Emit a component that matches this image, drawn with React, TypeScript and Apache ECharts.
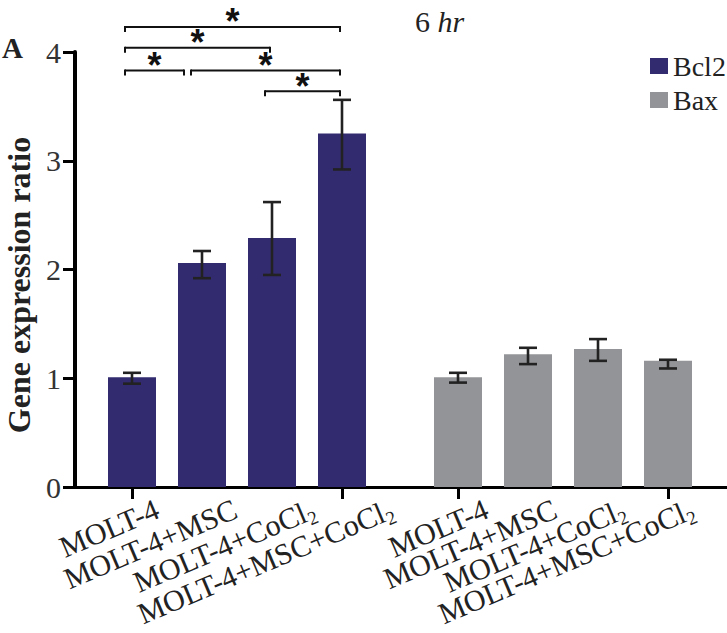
import React, { useEffect, useRef } from "react";
import * as echarts from "echarts";

const categories = ["MOLT-4", "MOLT-4+MSC", "MOLT-4+CoCl2", "MOLT-4+MSC+CoCl2"];
const bcl2Values = [1.01, 2.06, 2.29, 3.25];
const bcl2ErrLow = [0.95, 1.92, 1.95, 2.92];
const bcl2ErrHigh = [1.05, 2.17, 2.62, 3.56];
const baxValues = [1.01, 1.22, 1.27, 1.16];
const baxErrLow = [0.96, 1.13, 1.16, 1.09];
const baxErrHigh = [1.05, 1.28, 1.36, 1.17];
// significance brackets: [from index, to index, height (axis units)]
const brackets: [number, number, number][] = [
  [0, 3, 4.23],
  [0, 2, 4.04],
  [0, 1, 3.83],
  [1, 3, 3.83],
  [2, 3, 3.64],
];
const yTicks = [0, 1, 2, 3, 4];
const yName = "Gene expression ratio";

const SERIF = "'Liberation Serif', 'Times New Roman', serif";
const BCL2_COLOR = "#322b70";
const BAX_COLOR = "#939497";
const INK = "#222";

function labelFormatter(v: string) {
  return v.replace("CoCl2", "CoCl{sub|2}");
}

function errorRender() {
  return (params: any, api: any) => {
    const i = api.value(0);
    const lo = api.coord([i, api.value(1)]);
    const hi = api.coord([i, api.value(2)]);
    const cap = 9;
    const style = { stroke: INK, lineWidth: 2.6 };
    return {
      type: "group",
      children: [
        { type: "line", shape: { x1: hi[0], y1: hi[1], x2: lo[0], y2: lo[1] }, style },
        { type: "line", shape: { x1: hi[0] - cap, y1: hi[1], x2: hi[0] + cap, y2: hi[1] }, style },
        { type: "line", shape: { x1: lo[0] - cap, y1: lo[1], x2: lo[0] + cap, y2: lo[1] }, style },
      ],
    };
  };
}

export default function App() {
  const ref = useRef<HTMLDivElement>(null);
  useEffect(() => {
    if (!ref.current) return;
    const chart = echarts.init(ref.current, null, { renderer: "svg" });
    const top = 52;
    const height = 435;

    const hiddenY = (gridIndex: number) => ({
      type: "value",
      gridIndex,
      min: 0,
      max: 4,
      interval: 1,
      show: false,
    });

    const tickAxis = (gridIndex: number) => ({
      type: "category",
      gridIndex,
      data: categories,
      axisLine: { show: false },
      axisTick: { show: true, alignWithLabel: true, length: 12, lineStyle: { color: "#000", width: 3 } },
      axisLabel: { show: false },
      splitLine: { show: false },
    });

    const labelAxis = (gridIndex: number) => ({
      type: "category",
      gridIndex,
      data: categories,
      axisLine: { show: false },
      axisTick: { show: false },
      splitLine: { show: false },
      axisLabel: {
        show: true,
        interval: 0,
        rotate: 23,
        margin: 27,
        fontFamily: SERIF,
        fontSize: 30,
        color: INK,
        formatter: labelFormatter,
        rich: {
          sub: { fontFamily: SERIF, fontSize: 19, color: INK, padding: [18, 0, 0, 0] },
        },
      },
    });

    const option: any = {
      animation: false,
      title: {
        text: "6 {i|hr}",
        left: 410,
        top: 1,
        textStyle: {
          fontFamily: SERIF,
          fontSize: 30,
          fontWeight: "normal",
          color: INK,
          rich: { i: { fontFamily: SERIF, fontSize: 30, fontStyle: "italic", color: INK } },
        },
      },
      graphic: [
        {
          type: "text",
          left: 2,
          top: 33,
          style: { text: "A", fontFamily: SERIF, fontSize: 29, fontWeight: "bold", fill: INK },
        },
        {
          type: "text",
          x: 19,
          y: 285,
          rotation: Math.PI / 2,
          style: {
            text: yName,
            fontFamily: SERIF,
            fontSize: 32,
            fontWeight: "bold",
            fill: INK,
            align: "center",
            verticalAlign: "middle",
          },
        },
      ],
      legend: {
        data: ["Bcl2", "Bax"],
        orient: "vertical",
        left: 645,
        top: 47,
        itemWidth: 18,
        itemHeight: 16,
        itemGap: 6,
        icon: "rect",
        textStyle: { fontFamily: SERIF, fontSize: 28, lineHeight: 25, color: INK },
      },
      grid: [
        { left: 75, right: 0, top, height },
        { left: 97, width: 280, top, height },
        { left: 423, width: 280, top, height },
        { left: 118, width: 313, top, height },
        { left: 452, width: 307, top, height },
      ],
      xAxis: [
        {
          type: "value",
          gridIndex: 0,
          min: 0,
          max: 1,
          axisLine: { show: true, lineStyle: { color: "#000", width: 3 } },
          axisTick: { show: false },
          axisLabel: { show: false },
          splitLine: { show: false },
        },
        tickAxis(1),
        tickAxis(2),
        labelAxis(3),
        labelAxis(4),
      ],
      yAxis: [
        {
          type: "value",
          gridIndex: 0,
          min: 0,
          max: 4,
          interval: 1,
          axisLine: { show: true, lineStyle: { color: "#000", width: 4 } },
          axisTick: { show: true, length: 12, lineStyle: { color: "#000", width: 3 } },
          axisLabel: {
            margin: 14,
            fontFamily: SERIF,
            fontSize: 30,
            color: "#333",
            formatter: (v: number) => (yTicks.includes(v) ? String(v) : ""),
          },
          splitLine: { show: false },
        },
        hiddenY(1),
        hiddenY(2),
        hiddenY(3),
        hiddenY(4),
      ],
      series: [
        {
          name: "Bcl2",
          type: "bar",
          xAxisIndex: 1,
          yAxisIndex: 1,
          data: bcl2Values,
          barWidth: 48,
          itemStyle: { color: BCL2_COLOR },
        },
        {
          name: "Bax",
          type: "bar",
          xAxisIndex: 2,
          yAxisIndex: 2,
          data: baxValues,
          barWidth: 48,
          itemStyle: { color: BAX_COLOR },
        },
        {
          type: "custom",
          xAxisIndex: 1,
          yAxisIndex: 1,
          data: bcl2Values.map((_, i) => [i, bcl2ErrLow[i], bcl2ErrHigh[i]]),
          renderItem: errorRender(),
          z: 5,
          silent: true,
        },
        {
          type: "custom",
          xAxisIndex: 2,
          yAxisIndex: 2,
          data: baxValues.map((_, i) => [i, baxErrLow[i], baxErrHigh[i]]),
          renderItem: errorRender(),
          z: 5,
          silent: true,
        },
        {
          type: "custom",
          xAxisIndex: 1,
          yAxisIndex: 1,
          clip: false,
          silent: true,
          data: brackets.map((b) => [b[0], b[1], b[2]]),
          renderItem: (params: any, api: any) => {
            const from = api.value(0);
            const to = api.value(1);
            const h = api.value(2);
            const a = api.coord([from, h]);
            const b = api.coord([to, h]);
            const sharesEnd = brackets.some((o) => o[0] === to && o[2] === h);
            const startsShared = brackets.some((o) => o[1] === from && o[2] === h);
            const x1 = a[0] - 7 + (startsShared ? -4 : 0);
            const x2 = b[0] - 2 + (sharesEnd ? -16 : 0);
            const y = a[1];
            const style = { stroke: "#111", lineWidth: 2 };
            return {
              type: "group",
              children: [
                { type: "line", shape: { x1, y1: y, x2, y2: y }, style },
                { type: "line", shape: { x1, y1: y - 1, x2: x1, y2: y + 5 }, style },
                { type: "line", shape: { x1: x2, y1: y - 1, x2, y2: y + 5 }, style },
                {
                  type: "text",
                  x: (x1 + x2) / 2,
                  y: y - 5,
                  style: {
                    text: "*",
                    fontFamily: "'Liberation Sans', Arial, sans-serif",
                    fontSize: 36,
                    fontWeight: "bold",
                    fill: "#111",
                    align: "center",
                    verticalAlign: "middle",
                  },
                },
              ],
            };
          },
        },
      ],
    };
    chart.setOption(option);
    return () => chart.dispose();
  }, []);
  return (
    <div
      ref={ref}
      style={{ position: "fixed", left: 0, top: 0, width: 727, height: 633, background: "#fff" }}
    />
  );
}
